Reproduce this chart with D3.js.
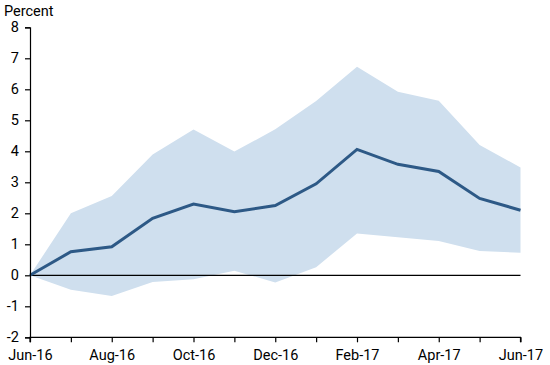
<!DOCTYPE html>
<html>
<head>
<meta charset="utf-8">
<script src="https://cdn.jsdelivr.net/npm/d3@7/dist/d3.min.js"></script>
<style>
  html, body { margin: 0; padding: 0; background: #fff; }
  svg { display: block; font-family: Roboto, "Liberation Sans", Arial, sans-serif; }
</style>
</head>
<body>
<svg id="chart" width="550" height="365"></svg>
<script>
const months = ["Jun-16","Jul-16","Aug-16","Sep-16","Oct-16","Nov-16","Dec-16","Jan-17","Feb-17","Mar-17","Apr-17","May-17","Jun-17"];
const central = [0, 0.76, 0.92, 1.84, 2.30, 2.05, 2.25, 2.95, 4.06, 3.58, 3.35, 2.48, 2.10];
const upper   = [0, 2.00, 2.56, 3.90, 4.70, 3.99, 4.71, 5.62, 6.73, 5.92, 5.63, 4.20, 3.48];
const lower   = [0, -0.47, -0.67, -0.22, -0.13, 0.15, -0.23, 0.26, 1.35, 1.23, 1.11, 0.78, 0.73];
const yTicks  = [-2, -1, 0, 1, 2, 3, 4, 5, 6, 7, 8];
const xLabels = ["Jun-16","Aug-16","Oct-16","Dec-16","Feb-17","Apr-17","Jun-17"];

const svg = d3.select("#chart");
const margin = {left: 30, right: 29.5, top: 27.3, bottom: 27.7};
const W = 550, H = 365;

const x = d3.scalePoint().domain(months).range([margin.left, W - margin.right]);
const y = d3.scaleLinear().domain([-2, 8]).range([H - margin.bottom, margin.top]);

const data = months.map((m, i) => ({m, c: central[i], u: upper[i], l: lower[i]}));

// band
svg.append("path")
  .datum(data)
  .attr("fill", "#cfdfee")
  .attr("d", d3.area().x(d => x(d.m)).y0(d => y(d.l)).y1(d => y(d.u)));

// zero line
svg.append("line")
  .attr("x1", x(months[0])).attr("x2", x(months[months.length - 1]))
  .attr("y1", y(0)).attr("y2", y(0))
  .attr("stroke", "#000").attr("stroke-width", 1.2);

// central line
svg.append("path")
  .datum(data)
  .attr("fill", "none")
  .attr("stroke", "#2d5986")
  .attr("stroke-width", 3)
  .attr("stroke-linejoin", "miter")
  .attr("d", d3.line().x(d => x(d.m)).y(d => y(d.c)));

// y axis
const yAxis = svg.append("g")
  .attr("transform", `translate(${margin.left},0)`)
  .call(d3.axisLeft(y).tickValues(yTicks).tickSize(5).tickPadding(6).tickFormat(d => String(d)));
yAxis.select(".domain").attr("stroke", "#000").attr("stroke-width", 1.2);
yAxis.selectAll(".tick line").attr("stroke", "#000").attr("stroke-width", 1.2);
yAxis.selectAll("text").attr("font-size", 14.5).attr("fill", "#000").attr("font-family", "Roboto, sans-serif");

// x axis
const xAxis = svg.append("g")
  .attr("transform", `translate(0,${y(-2)})`)
  .call(d3.axisBottom(x).tickSize(5).tickPadding(7)
    .tickFormat(d => xLabels.includes(d) ? d : ""));
xAxis.select(".domain").attr("stroke", "#000").attr("stroke-width", 1.2)
  .attr("d", `M${x(months[0])},5V0H${x(months[months.length-1])}V5`);
xAxis.selectAll(".tick line").attr("stroke", "#000").attr("stroke-width", 1.2);
xAxis.selectAll("text").attr("font-size", 14.5).attr("fill", "#000").attr("font-family", "Roboto, sans-serif");

// y title
svg.append("text")
  .attr("x", 4).attr("y", 16)
  .attr("font-size", 14.5)
  .attr("fill", "#000")
  .text("Percent");
</script>
</body>
</html>
